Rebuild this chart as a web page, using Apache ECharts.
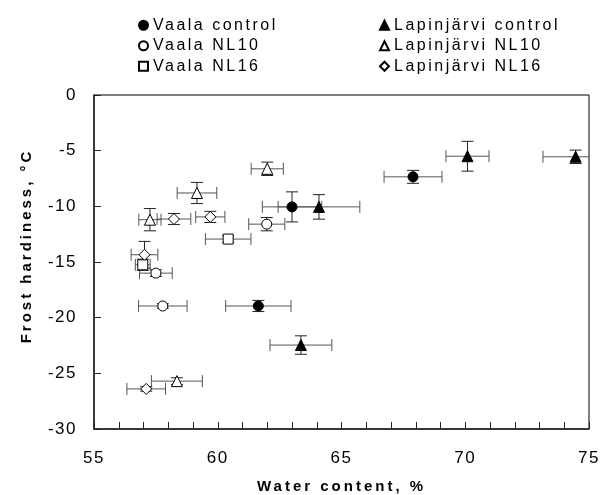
<!DOCTYPE html>
<html><head><meta charset="utf-8">
<script src="https://cdn.jsdelivr.net/npm/echarts@6/dist/echarts.min.js"></script>
<style>html,body{margin:0;padding:0;background:#fff}#c{width:609px;height:495px}</style>
</head><body><div id="c"></div>
<script>
// The reference text is set with loose letter spacing; apply it through the canvas font setter.
(function () {
  const proto = window.CanvasRenderingContext2D && CanvasRenderingContext2D.prototype;
  if (!proto || !('letterSpacing' in proto)) return;
  const desc = Object.getOwnPropertyDescriptor(proto, 'font');
  if (!desc || !desc.set) return;
  function spacingFor(f) {
    if (/bold/.test(f)) return '3px';
    if (/16px/.test(f)) return '2.5px';
    if (/17px/.test(f)) return '1.5px';
    return '0px';
  }
  Object.defineProperty(proto, 'font', {
    configurable: true,
    enumerable: desc.enumerable,
    get: function () { return desc.get.call(this); },
    set: function (v) { desc.set.call(this, v); try { this.letterSpacing = spacingFor(String(v)); } catch (e) {} }
  });
})();

const seriesNames = ['Vaala control','Vaala NL10','Vaala NL16','Lapinjärvi control','Lapinjärvi NL10','Lapinjärvi NL16'];

const waterVaalaControl = [63.0, 61.64, 67.89];
const frostVaalaControl = [-10.05, -18.95, -7.35];
const waterErrVaalaControl = [1.2, 1.32, 1.17];
const frostErrVaalaControl = [1.35, 0.5, 0.58];

const waterVaalaNL10 = [61.98, 57.5, 57.78];
const frostVaalaNL10 = [-11.6, -16.0, -18.95];
const waterErrVaalaNL10 = [0.73, 0.66, 0.98];
const frostErrVaalaNL10 = [0.6, 0.3, 0.2];

const waterVaalaNL16 = [60.42, 56.97];
const frostVaalaNL16 = [-12.94, -15.25];
const waterErrVaalaNL16 = [0.92, 0.3];
const frostErrVaalaNL16 = [0.3, 0.5];

const waterLapControl = [64.09, 63.36, 70.09, 74.46];
const frostLapControl = [-10.05, -22.46, -5.5, -5.55];
const waterErrLapControl = [1.65, 1.25, 0.87, 1.32];
const frostErrLapControl = [1.1, 0.83, 1.34, 0.6];

const waterLapNL10 = [62.0, 59.16, 57.26, 58.35];
const frostLapNL10 = [-6.63, -8.8, -11.2, -25.7];
const waterErrLapNL10 = [0.65, 0.8, 0.45, 1.03];
const frostErrLapNL10 = [0.6, 0.95, 1.0, 0.3];

const waterLapNL16 = [58.23, 59.7, 57.04, 57.11];
const frostLapNL16 = [-11.14, -10.95, -14.35, -26.4];
const waterErrLapNL16 = [0.68, 0.59, 0.54, 0.78];
const frostErrLapNL16 = [0.5, 0.5, 1.2, 0.2];

const xTicks = [55, 60, 65, 70, 75];
const yTicks = [-30, -25, -20, -15, -10, -5, 0];

const groups = [
  [waterVaalaControl, frostVaalaControl, waterErrVaalaControl, frostErrVaalaControl],
  [waterVaalaNL10, frostVaalaNL10, waterErrVaalaNL10, frostErrVaalaNL10],
  [waterVaalaNL16, frostVaalaNL16, waterErrVaalaNL16, frostErrVaalaNL16],
  [waterLapControl, frostLapControl, waterErrLapControl, frostErrLapControl],
  [waterLapNL10, frostLapNL10, waterErrLapNL10, frostErrLapNL10],
  [waterLapNL16, frostLapNL16, waterErrLapNL16, frostErrLapNL16]
];
const symbols = ['circle','circle','rect','triangle','triangle','diamond'];
const symSizes = [10, 10, 10, 11, 11, 11];
const filled = [true, false, false, true, false, false];

const FONT = 'Liberation Sans, Arial, sans-serif';
const series = [];
groups.forEach((g, i) => {
  const pts = g[0].map((x, k) => [x, g[1][k], g[2][k], g[3][k]]);
  series.push({
    type: 'custom',
    name: seriesNames[i] + ' err',
    data: pts,
    z: 1,
    clip: false,
    renderItem: function (params, api) {
      const x = api.value(0), y = api.value(1), ex = api.value(2), ey = api.value(3);
      const l = api.coord([x - ex, y]), r = api.coord([x + ex, y]);
      const t = api.coord([x, y + ey]), b = api.coord([x, y - ey]);
      const cap = 6;
      const hs = { stroke: '#555', lineWidth: 1 };
      const vs = { stroke: '#222', lineWidth: 1 };
      const cs = params.coordSys;
      return {
        type: 'group',
        clipPath: { type: 'rect', shape: { x: cs.x - 8, y: cs.y - 8, width: cs.width + 8, height: cs.height + 16 } },
        children: [
          { type: 'line', shape: { x1: l[0], y1: l[1], x2: r[0], y2: r[1] }, style: hs },
          { type: 'line', shape: { x1: l[0], y1: l[1] - cap, x2: l[0], y2: l[1] + cap }, style: hs },
          { type: 'line', shape: { x1: r[0], y1: r[1] - cap, x2: r[0], y2: r[1] + cap }, style: hs },
          { type: 'line', shape: { x1: t[0], y1: t[1], x2: b[0], y2: b[1] }, style: vs },
          { type: 'line', shape: { x1: t[0] - cap, y1: t[1], x2: t[0] + cap, y2: t[1] }, style: vs },
          { type: 'line', shape: { x1: b[0] - cap, y1: b[1], x2: b[0] + cap, y2: b[1] }, style: vs }
        ]
      };
    }
  });
  series.push({
    type: 'scatter',
    name: seriesNames[i],
    data: pts.map(p => [p[0], p[1]]),
    symbol: symbols[i],
    symbolSize: symSizes[i],
    z: 3,
    itemStyle: {
      color: filled[i] ? '#000' : '#fff',
      borderColor: '#000',
      borderWidth: 1,
      opacity: 1
    },
    emphasis: { disabled: true }
  });
});

const legendText = { fontFamily: FONT, fontSize: 16, color: '#000', lineHeight: 15 };
const option = {
  animation: false,
  backgroundColor: '#fff',
  legend: [
    { data: seriesNames.slice(0, 3), orient: 'vertical', left: 133, top: 11, itemWidth: 9, itemHeight: 9, itemGap: 2, textStyle: legendText, selectedMode: false },
    { data: seriesNames.slice(3), orient: 'vertical', left: 374, top: 11, itemWidth: 9, itemHeight: 9, itemGap: 2, textStyle: legendText, selectedMode: false }
  ],
  grid: { left: 94, right: 20, top: 95, bottom: 66, show: true, borderColor: '#000', borderWidth: 1, containLabel: false, outerBoundsMode: 'none' },
  xAxis: {
    type: 'value', min: xTicks[0], max: xTicks[xTicks.length - 1], interval: 5,
    name: 'Water content, %', nameLocation: 'middle', nameGap: 49,
    nameTextStyle: { fontFamily: FONT, fontSize: 15, fontWeight: 'bold', color: '#000' },
    axisLine: { show: true, onZero: false, lineStyle: { color: '#222', width: 1.5 } },
    axisTick: { show: true, inside: true, length: 7, lineStyle: { color: '#222' } },
    minorTick: { show: true, splitNumber: 5, length: 7, lineStyle: { color: '#222' } },
    axisLabel: { margin: 20, fontFamily: FONT, fontSize: 17, color: '#000' },
    splitLine: { show: false }
  },
  yAxis: {
    type: 'value', min: yTicks[0], max: yTicks[yTicks.length - 1], interval: 5,
    name: 'Frost hardiness, °C', nameLocation: 'middle', nameGap: 58,
    nameTextStyle: { fontFamily: FONT, fontSize: 15, fontWeight: 'bold', color: '#000', padding: [0, 0, 0, 32] },
    axisLine: { show: true, onZero: false, lineStyle: { color: '#222', width: 1.5 } },
    axisTick: { show: true, inside: true, length: 7, lineStyle: { color: '#222' } },
    axisLabel: { margin: 17, fontFamily: FONT, fontSize: 17, color: '#000' },
    splitLine: { show: false }
  },
  series: series
};
const chart = echarts.init(document.getElementById('c'), null, { renderer: 'canvas' });
chart.setOption(option);
</script>
</body></html>
